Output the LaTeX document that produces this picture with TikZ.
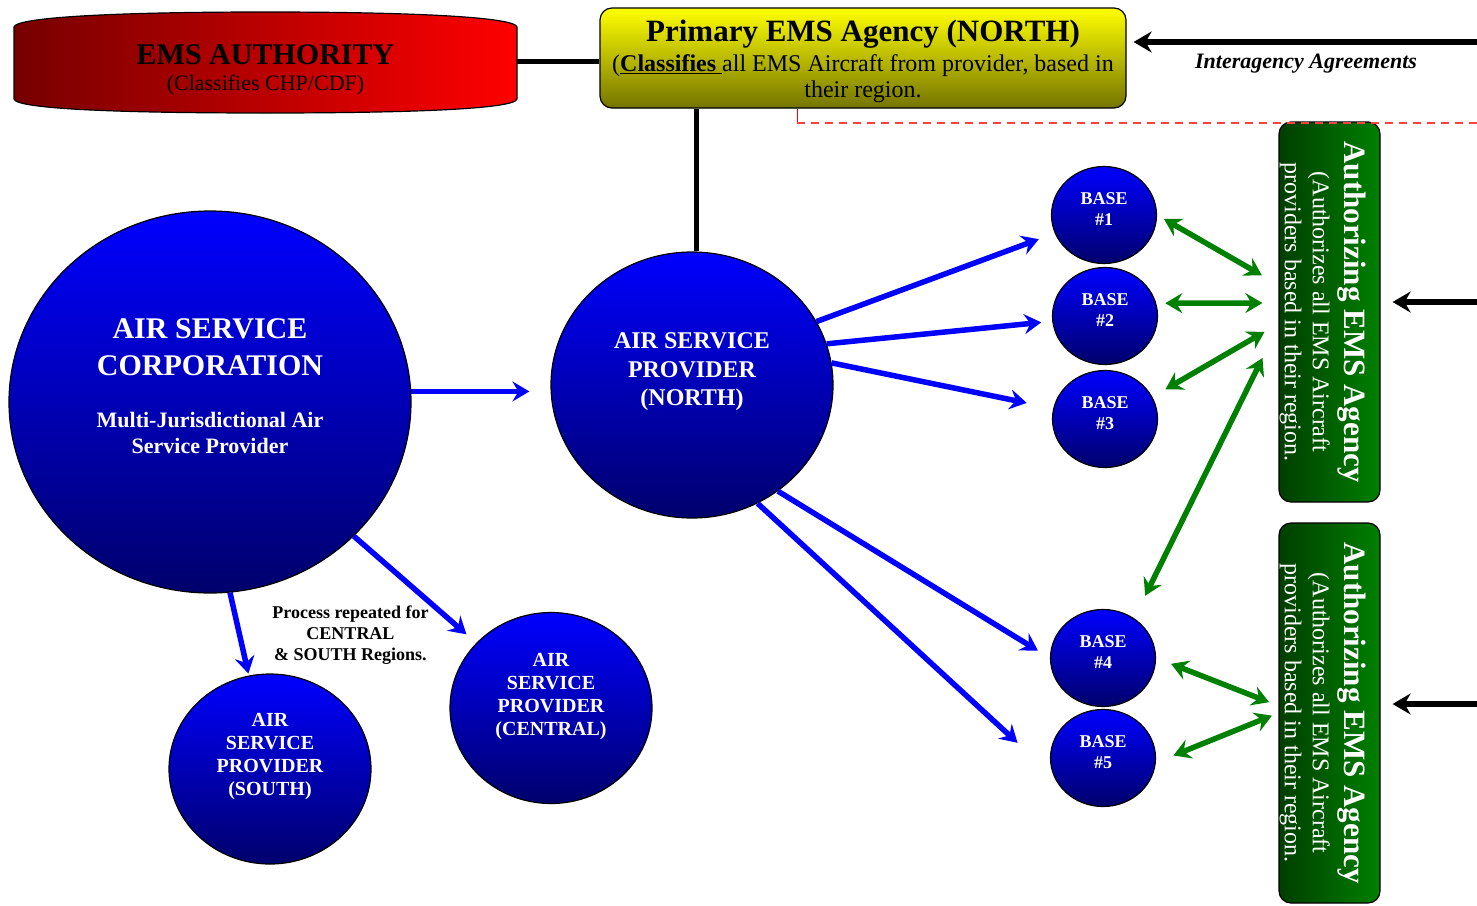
\documentclass[tikz,border=0pt]{standalone}
\usepackage{fontspec}
\setmainfont{Liberation Serif}
\usetikzlibrary{arrows.meta,shapes.geometric}

\definecolor{authdark}{HTML}{760000}
\definecolor{authred}{HTML}{FF0000}
\definecolor{primtop}{HTML}{FFFF00}
\definecolor{primbottom}{HTML}{747400}
\definecolor{skytop}{HTML}{0000FF}
\definecolor{skybottom}{HTML}{00006C}
\definecolor{agencydark}{HTML}{003E00}
\definecolor{agencygreen}{HTML}{008000}
\definecolor{linkgreen}{HTML}{008000}
\definecolor{dashred}{HTML}{FF4040}

\newcommand{\fs}[2]{\fontsize{#1}{#2}\selectfont}

\begin{document}
\begin{tikzpicture}[
  x=1pt, y=-1pt,
  line join=round,
  sky/.style={ellipse, draw, line width=1.2pt, inner sep=0pt,
    top color=skytop, bottom color=skybottom},
  skytext/.style={text=white, align=center},
  basebox/.style={sky, minimum width=105pt, minimum height=97pt},
  agencybox/.style={draw, line width=1.2pt, rounded corners=12pt,
    minimum width=101pt, minimum height=380pt,
    left color=agencydark, right color=agencygreen},
  agencytext/.style={rotate=-90, text=white, align=center, font=\fs{24}{28}},
  link/.style={line width=5pt},
  bluearrow/.style={draw=blue, line width=5.5pt,
    -{Stealth[length=17pt, width=20pt, inset=6pt]}},
  greenarrow/.style={draw=linkgreen, line width=5.5pt,
    {Stealth[length=17pt, width=20pt, inset=6pt]}-{Stealth[length=17pt, width=20pt, inset=6pt]}},
  blackarrow/.style={line width=6pt,
    -{Stealth[length=18pt, width=21pt, inset=6pt]}},
]
\useasboundingbox (0,0) rectangle (1477,905);

% ── top row: the authority banner and the primary agency ─────────────────
\path[draw, line width=1.2pt, left color=authdark, right color=authred]
  (14,27) .. controls (16,17) and (120,12) .. (265.5,12)
  .. controls (411,12) and (515,17) .. (517,27) -- (517,99)
  .. controls (515,109) and (411,113) .. (265.5,113)
  .. controls (120,113) and (16,109) .. (14,99) -- cycle;
\node[minimum width=503pt, inner sep=0pt, align=center, font=\fs{22}{26}]
  (ema) at (265.5,69.5) {{\fs{30}{33}\bfseries EMS AUTHORITY}\\(Classifies CHP/CDF)};

\node[draw, line width=1.2pt, rounded corners=12pt, minimum width=526pt,
  minimum height=100pt, top color=primtop, bottom color=primbottom] (prim) at (863,58) {};
\node[align=center, inner sep=0pt, font=\fs{24}{26}] (primtext) at (863,61.5)
  {{\fs{31}{30}\bfseries Primary EMS Agency (NORTH)}\\[4pt]
   (\underline{\textbf{Classifies}\ }all EMS Aircraft from provider, based in\\
   their region.};

\coordinate (emaend) at ([yshift=8.5pt]ema.east);
\draw[link] (emaend) -- (emaend -| prim.west);

\coordinate (iastart) at (1477,42);
\draw[blackarrow, shorten >=7pt] (iastart) -- (iastart -| prim.east);
\node[font=\fs{22}{26}\bfseries\itshape] (ialabel) at (1306,64) {Interagency Agreements};

% ── the two authorizing agencies, down the right edge ────────────────────
\node[agencybox] (auth1) at (1329.5,312) {};
\node[agencytext] (auth1text) at (1323,312)
  {{\fs{31}{32}\bfseries Authorizing EMS Agency}\\[4pt]
   (Authorizes all EMS Aircraft\\providers based in their region.};
\node[agencybox] (auth2) at (1329.5,713) {};
\node[agencytext] (auth2text) at (1323,713)
  {{\fs{31}{32}\bfseries Authorizing EMS Agency}\\[4pt]
   (Authorizes all EMS Aircraft\\providers based in their region.};

\coordinate (in1) at (1477,302);
\coordinate (in2) at (1477,704);
\draw[blackarrow, shorten >=12pt] (in1) -- (in1 -| auth1.east);
\draw[blackarrow, shorten >=12pt] (in2) -- (in2 -| auth2.east);

% ── corporation and providers ────────────────────────────────────────────
\node[sky, minimum width=402pt, minimum height=382pt] (corp) at (210,402) {};
\node[skytext, font=\bfseries\fs{22}{26}] (corptext) at (210,386)
  {{\fs{30}{33}AIR SERVICE}\\[11pt]{\fs{30}{33}CORPORATION}\\[26pt]
   Multi-Jurisdictional Air\\Service Provider};

\node[sky, minimum width=282pt, minimum height=266pt] (north) at (692,385) {};
\node[skytext, font=\bfseries\fs{24}{28.5}] (northtext) at (692,372)
  {AIR SERVICE\\PROVIDER\\(NORTH)};

\node[sky, minimum width=202pt, minimum height=190pt] (south) at (270,769) {};
\node[skytext, font=\bfseries\fs{20}{23}] (southtext) at (270,756.5)
  {AIR\\SERVICE\\PROVIDER\\(SOUTH)};

\node[sky, minimum width=202pt, minimum height=191pt] (central) at (551,708) {};
\node[skytext, font=\bfseries\fs{20}{23}] (centraltext) at (551,696.5)
  {AIR\\SERVICE\\PROVIDER\\(CENTRAL)};

\node[align=center, font=\bfseries\fs{18}{21}] (repeat) at (350.5,635)
  {Process repeated for\\CENTRAL\\\& SOUTH Regions.};

% ── the five bases of the north provider ─────────────────────────────────
\foreach \n/\bx/\by in {1/1104/215, 2/1105/316, 3/1105/419, 4/1103/658, 5/1103/758} {
  \node[basebox] (base\n) at (\bx,\by) {};
  \node[skytext, font=\bfseries\fs{18}{21}] (base\n text) at (\bx,\by-6) {BASE\\\#\n};
}

% ── connectors ───────────────────────────────────────────────────────────
\draw[link] (north.88) -- (north.88 |- prim.south);

\draw[bluearrow, shorten >=21pt] (corp.3) -- (corp.3 -| north.west);
\draw[bluearrow, shorten >=13pt] (corp.-43) -- (central);
\draw[bluearrow, shorten >=2pt]  (corp.-84) -- (south);

\draw[bluearrow, shorten >=17pt] (north.27)  -- (base1);
\draw[bluearrow, shorten >=11pt] (north.17)  -- (base2);
\draw[bluearrow, shorten >=27pt] (north.9)   -- (base3);
\draw[bluearrow, shorten >=14pt] (north.-51) -- (base4.west);
\draw[bluearrow, shorten >=49pt] (north.-61) -- (base5.200);

\draw[greenarrow, shorten <=8pt,  shorten >=19pt] (base1.east) -- (auth1.152);
\draw[greenarrow, shorten <=9pt,  shorten >=16pt] (base2.14)   -- (auth1.170);
\draw[greenarrow, shorten <=15pt, shorten >=16pt] (base3.25)   -- (auth1.193);
\draw[greenarrow, shorten <=25pt, shorten >=36pt] (base4.52)   -- (auth1.195);
\draw[greenarrow, shorten <=16pt, shorten >=10pt] (base4.east) -- (auth2.172);
\draw[greenarrow, shorten <=19pt, shorten >=7pt]  (base5.-5)   -- (auth2.west);

% Drawn last, over the green box: the red boundary of the north region.
\draw[red, line width=1pt] (797,109) -- (797,123);
\draw[dashred, line width=1.3pt, dash pattern=on 8pt off 6pt] (797,123) -- (1477,123);

\end{tikzpicture}
\end{document}
